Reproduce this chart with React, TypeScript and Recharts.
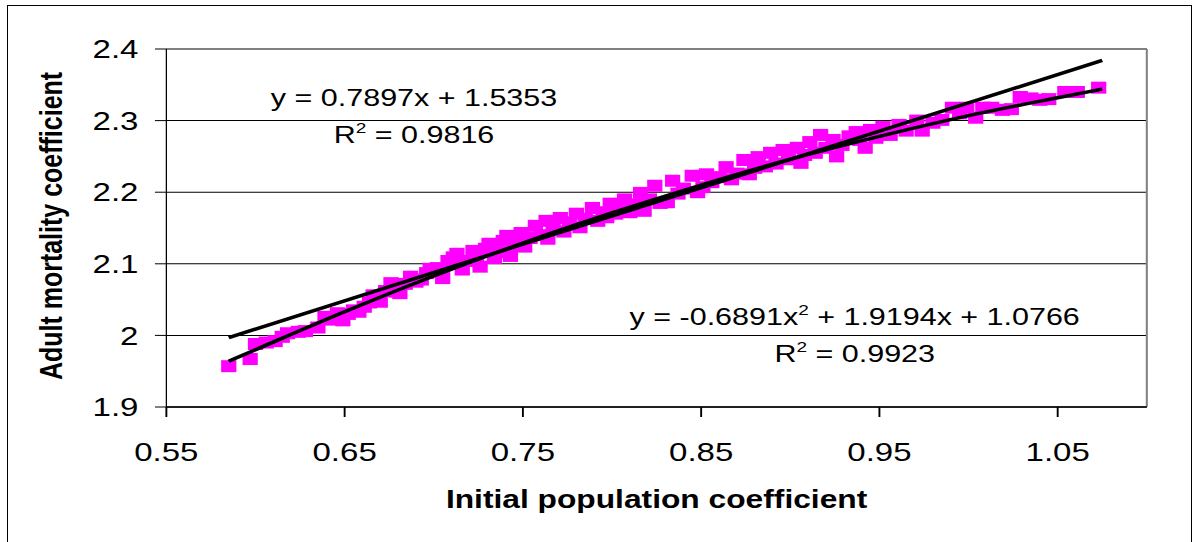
import {
  CartesianGrid,
  Customized,
  ReferenceLine,
  Scatter,
  ScatterChart,
  XAxis,
  YAxis,
} from "recharts";

// the source chart is stretched sideways, so the chart is drawn narrow and widened
const STRETCH = 1.27;
const FONT = "Arial, 'Liberation Sans', sans-serif";

const xTicks = [0.55, 0.65, 0.75, 0.85, 0.95, 1.05];
const yTicks = [1.9, 2, 2.1, 2.2, 2.3, 2.4];

// initial population coefficient (x) and adult mortality coefficient (y)
const popX = [
  0.585, 0.597, 0.6, 0.606, 0.611, 0.615, 0.618, 0.624, 0.628, 0.635, 0.639, 0.643, 0.646, 0.649, 0.652,
  0.655, 0.658, 0.661, 0.664, 0.666, 0.67, 0.673, 0.676, 0.679, 0.681, 0.684, 0.687, 0.69, 0.693, 0.696,
  0.698, 0.702, 0.705, 0.708, 0.711, 0.713, 0.716, 0.719, 0.722, 0.724, 0.726, 0.729, 0.731, 0.734, 0.737,
  0.739, 0.741, 0.743, 0.746, 0.749, 0.751, 0.754, 0.757, 0.76, 0.763, 0.764, 0.767, 0.771, 0.773, 0.776,
  0.78, 0.782, 0.785, 0.789, 0.792, 0.795, 0.797, 0.799, 0.802, 0.805, 0.807, 0.81, 0.813, 0.816, 0.818,
  0.821, 0.824, 0.827, 0.831, 0.834, 0.837, 0.84, 0.845, 0.848, 0.851, 0.853, 0.856, 0.86, 0.864, 0.867,
  0.87, 0.874, 0.877, 0.88, 0.882, 0.886, 0.889, 0.892, 0.896, 0.899, 0.904, 0.906, 0.908, 0.911, 0.914,
  0.917, 0.92, 0.924, 0.926, 0.929, 0.933, 0.937, 0.939, 0.942, 0.945, 0.948, 0.952, 0.956, 0.961, 0.965,
  0.971, 0.974, 0.98, 0.985, 0.991, 0.995, 0.999, 1.004, 1.008, 1.013, 1.019, 1.024, 1.029, 1.035, 1.04,
  1.045, 1.054, 1.061, 1.073,
];
const mortY = [
  1.957, 1.967, 1.988, 1.99, 1.992, 1.998, 2.003, 2.005, 2.006, 2.011, 2.026, 2.022, 2.031, 2.021, 2.03,
  2.035, 2.033, 2.04, 2.046, 2.056, 2.047, 2.062, 2.073, 2.061, 2.059, 2.072, 2.082, 2.075, 2.078, 2.087,
  2.093, 2.094, 2.08, 2.104, 2.109, 2.114, 2.092, 2.104, 2.118, 2.11, 2.096, 2.121, 2.128, 2.108, 2.116,
  2.132, 2.139, 2.111, 2.127, 2.143, 2.124, 2.136, 2.153, 2.14, 2.16, 2.135, 2.15, 2.164, 2.145, 2.158,
  2.17, 2.151, 2.163, 2.178, 2.16, 2.172, 2.165, 2.184, 2.17, 2.178, 2.19, 2.172, 2.183, 2.199, 2.174,
  2.19, 2.209, 2.185, 2.186, 2.216, 2.198, 2.205, 2.223, 2.2, 2.207, 2.225, 2.214, 2.221, 2.235, 2.218,
  2.226, 2.245, 2.225, 2.234, 2.249, 2.236, 2.255, 2.24, 2.259, 2.246, 2.262, 2.241, 2.252, 2.27, 2.255,
  2.28, 2.262, 2.273, 2.25, 2.266, 2.278, 2.284, 2.273, 2.262, 2.287, 2.276, 2.291, 2.28, 2.294, 2.286,
  2.3, 2.286, 2.297, 2.301, 2.318, 2.31, 2.318, 2.304, 2.318, 2.318, 2.315, 2.316, 2.333, 2.331, 2.329,
  2.33, 2.34, 2.34, 2.346,
];

// trend lines as drawn in the picture
const linearX = [0.585, 1.075];
const linearY = [1.997, 2.384];
const polyX = [0.585, 0.6, 0.65, 0.7, 0.75, 0.8, 0.85, 0.9, 0.95, 1.0, 1.05, 1.075];
const polyY = [1.964, 1.98, 2.033, 2.083, 2.129, 2.171, 2.21, 2.246, 2.278, 2.307, 2.332, 2.344];

const points = popX.map((x, i) => ({ x, y: mortY[i] }));
const linearFit = linearX.map((x, i) => ({ x, y: linearY[i] }));
const polyFit = polyX.map((x, i) => ({ x, y: polyY[i] }));

const Marker = (props: any) => (
  <rect x={props.cx - 6} y={props.cy - 6} width={12} height={12} fill="#ff00ff" />
);
const NoMarker = () => <g />;

const Annotations = () => (
  <g fontFamily={FONT} fill="#000">
    <text x={326} y={106} fontSize={24} textAnchor="middle">
      y = 0.7897x + 1.5353
    </text>
    <text x={326} y={143} fontSize={24} textAnchor="middle">
      R<tspan dy={-10} fontSize={15}>2</tspan>
      <tspan dy={10}> = 0.9816</tspan>
    </text>
    <text x={673} y={325} fontSize={24} textAnchor="middle">
      y = -0.6891x<tspan dy={-10} fontSize={15}>2</tspan>
      <tspan dy={10}> + 1.9194x + 1.0766</tspan>
    </text>
    <text x={673} y={362} fontSize={24} textAnchor="middle">
      R<tspan dy={-10} fontSize={15}>2</tspan>
      <tspan dy={10}> = 0.9923</tspan>
    </text>
    <text x={517} y={508} fontSize={25} fontWeight="bold" textAnchor="middle">
      Initial population coefficient
    </text>
    <text
      x={48.8}
      y={226}
      fontSize={25}
      fontWeight="bold"
      textAnchor="middle"
      transform="rotate(-90 48.8 226)"
    >
      Adult mortality coefficient
    </text>
  </g>
);

export default function App() {
  return (
    <div style={{ position: "absolute", left: 0, top: 0, width: 1201, height: 542, overflow: "hidden", background: "#fff" }}>
      <div
        style={{
          position: "absolute",
          left: 7,
          top: 5,
          width: 1185,
          height: 560,
          border: "1px solid #000",
          boxSizing: "border-box",
        }}
      />
      <div
        style={{
          position: "absolute",
          left: 0,
          top: 0,
          width: 945,
          height: 542,
          transform: `scaleX(${STRETCH})`,
          transformOrigin: "0 0",
        }}
      >
        <ScatterChart width={945} height={542} margin={{ top: 49, right: 42, bottom: 75, left: 0 }}>
          <CartesianGrid horizontal vertical={false} stroke="#000" strokeWidth={1} />
          <XAxis
            type="number"
            dataKey="x"
            domain={[0.55, 1.1]}
            ticks={xTicks}
            tickFormatter={(v: number) => v.toFixed(2)}
            tick={{ fill: "#000", fontSize: 26, fontFamily: FONT }}
            tickSize={10}
            tickMargin={26}
            height={60}
            stroke="#000"
            strokeWidth={1.5}
            allowDataOverflow
          />
          <YAxis
            type="number"
            dataKey="y"
            domain={[1.9, 2.4]}
            ticks={yTicks}
            tickFormatter={(v: number) => String(v)}
            tick={{ fill: "#000", fontSize: 26, fontFamily: FONT }}
            tickSize={9}
            tickMargin={13}
            width={131}
            stroke="#000"
            strokeWidth={1}
            allowDataOverflow
          />
          <ReferenceLine y={2.4} stroke="#808080" strokeWidth={2} />
          <ReferenceLine x={1.1} stroke="#808080" strokeWidth={1.6} />
          <Scatter data={points} shape={Marker} isAnimationActive={false} />
          <Scatter
            data={linearFit}
            shape={NoMarker}
            line={{ stroke: "#000", strokeWidth: 3.5 }}
            isAnimationActive={false}
          />
          <Scatter
            data={polyFit}
            shape={NoMarker}
            line={{ stroke: "#000", strokeWidth: 3.5 }}
            lineJointType="monotoneX"
            isAnimationActive={false}
          />
          <Customized component={Annotations} />
        </ScatterChart>
      </div>
    </div>
  );
}
